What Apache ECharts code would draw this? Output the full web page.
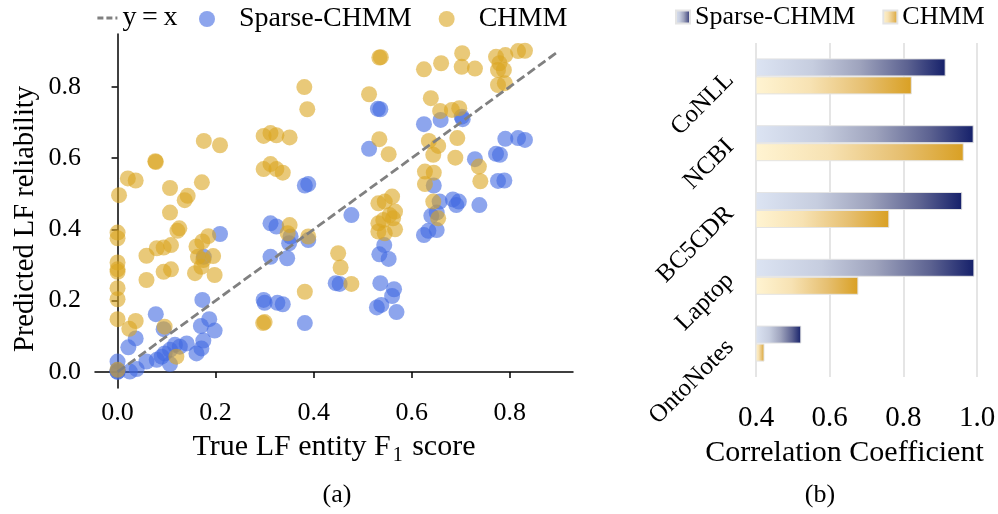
<!DOCTYPE html>
<html>
<head>
<meta charset="utf-8">
<script src="https://cdn.jsdelivr.net/npm/echarts@6/dist/echarts.min.js"></script>
<style>
html,body{margin:0;padding:0;background:#fff;}
#chart{width:998px;height:514px;}
</style>
</head>
<body>
<div id="chart"></div>
<script>
// ---------- (a) scatter data ----------
const sparseF1 = [0.382,0.389,0.531,0.536,0.625,0.659,0.702,0.704,0.513,0.791,0.817,0.831,0.729,0.772,0.780,0.776,0.789,0.645,0.477,0.657,0.684,0.696,0.691,0.738,0.544,0.534,0.553,0.640,0.651,0.625,0.634,0.651,0.453,0.445,0.536,0.564,0.560,0.529,0.538,0.569,0.209,0.176,0.312,0.324,0.353,0.350,0.389,0.312,0.346,0.298,0.300,0.326,0.337,0.382,0.173,0.078,0.094,0.187,0.170,0.198,0.037,0.022,0.175,0.171,0.161,0.141,0.127,0.117,0.107,0.096,0.090,0.059,0.080,0.107,0.039,0.025,0.000,0.000,0.000,0.000];
const sparseRel = [0.523,0.527,0.738,0.737,0.695,0.707,0.716,0.709,0.626,0.654,0.656,0.651,0.597,0.612,0.609,0.536,0.537,0.523,0.440,0.478,0.484,0.478,0.468,0.468,0.356,0.330,0.317,0.438,0.447,0.384,0.396,0.398,0.247,0.249,0.249,0.232,0.213,0.181,0.188,0.168,0.387,0.323,0.417,0.408,0.380,0.361,0.370,0.323,0.319,0.202,0.194,0.194,0.190,0.137,0.202,0.162,0.120,0.148,0.129,0.116,0.094,0.069,0.088,0.066,0.052,0.080,0.071,0.076,0.062,0.052,0.043,0.029,0.034,0.022,0.008,0.001,0.029,0.001,0.000,0.005];
const chmmF1 = [0.381,0.387,0.176,0.209,0.298,0.312,0.324,0.351,0.078,0.077,0.021,0.037,0.003,0.107,0.172,0.143,0.137,0.298,0.312,0.324,0.337,
  0.534,0.537,0.625,0.660,0.703,0.702,0.729,0.772,0.791,0.779,0.776,0.788,0.817,0.831,0.776,0.790,0.513,0.639,0.658,0.682,0.697,0.534,0.553,0.635,0.654,0.644,0.693,0.689,0.627,0.645,0.627,0.737,0.740,0.644,
  0.532,0.545,0.560,0.532,0.542,0.555,0.566,0.562,0.532,0.545,0.566,0.450,0.455,0.477,0.654,
  0.107,0.000,0.000,0.126,0.122,0.059,0.080,0.094,0.109,0.161,0.173,0.185,0.164,0.175,0.195,0.000,0.000,0.000,0.094,0.109,0.158,0.171,0.198,0.059,0.000,0.000,0.000,0.037,0.024,0.096,0.351,0.347,0.389,0.297,0.300,0.382,0.120,0.000];
const chmmRel = [0.799,0.737,0.648,0.636,0.662,0.670,0.664,0.658,0.589,0.591,0.543,0.537,0.496,0.516,0.532,0.494,0.482,0.569,0.583,0.569,0.559,
  0.882,0.883,0.849,0.866,0.894,0.856,0.851,0.884,0.889,0.866,0.847,0.847,0.900,0.901,0.805,0.810,0.779,0.768,0.732,0.735,0.740,0.653,0.611,0.648,0.634,0.609,0.656,0.601,0.562,0.559,0.527,0.576,0.535,0.478,
  0.473,0.478,0.492,0.417,0.426,0.440,0.450,0.431,0.394,0.389,0.400,0.333,0.293,0.247,0.431,
  0.447,0.391,0.375,0.403,0.396,0.326,0.347,0.349,0.356,0.352,0.366,0.381,0.323,0.314,0.325,0.307,0.288,0.281,0.281,0.288,0.277,0.295,0.272,0.258,0.235,0.204,0.148,0.143,0.121,0.127,0.412,0.389,0.380,0.137,0.140,0.225,0.043,0.006];
const diagX = [0, 0.9];
const diagY = [0, 0.9];
const scatterTicks = [0, 0.2, 0.4, 0.6, 0.8];

// ---------- (b) bar data ----------
const datasets = ['CoNLL', 'NCBI', 'BC5CDR', 'Laptop', 'OntoNotes'];
const sparseCorr = [0.915, 0.991, 0.960, 0.993, 0.523];
const chmmCorr = [0.823, 0.964, 0.762, 0.678, 0.423];

const FONT = 'Liberation Serif';
const zip = (a, b) => a.map((v, i) => [v, b[i]]);

const sparseGrad = new echarts.graphic.LinearGradient(0, 0, 1, 0, [
  {offset: 0, color: '#dce4f3'},
  {offset: 0.3, color: '#c6cddf'},
  {offset: 0.55, color: '#9ea3bd'},
  {offset: 0.8, color: '#5c6291'},
  {offset: 1, color: '#15206a'}
]);
const chmmGrad = new echarts.graphic.LinearGradient(0, 0, 1, 0, [
  {offset: 0, color: '#fff4d2'},
  {offset: 0.35, color: '#f7e2b3'},
  {offset: 0.7, color: '#e6bf70'},
  {offset: 1, color: '#d9a023'}
]);

const chart = echarts.init(document.getElementById('chart'), null, {renderer: 'canvas'});
const option = {
  animation: false,
  backgroundColor: '#fff',
  textStyle: {fontFamily: FONT, color: '#000'},
  grid: [
    {left: 95, top: 34, width: 478, height: 354, outerBoundsMode: 'none', containLabel: false},
    {left: 756, top: 43, width: 221, height: 334, outerBoundsMode: 'none', containLabel: false}
  ],
  legend: [
    {
      data: ['y = x'], left: 96, top: 4, padding: 0, itemWidth: 20, itemHeight: 14,
      itemStyle: {opacity: 0},
      lineStyle: {color: '#808080', width: 2.8, type: [6, 3]},
      formatter: n => n.replace(/ /g, '\u2009'),
      textStyle: {fontSize: 28, fontFamily: FONT, color: '#000'}
    },
    {
      data: ['Sparse-CHMM', 'CHMM'], left: 199, top: 5, padding: 0, itemWidth: 16, itemHeight: 16, itemGap: 27,
      icon: 'circle',
      formatter: n => '{g| }' + n,
      textStyle: {fontSize: 28, fontFamily: FONT, color: '#000', rich: {g: {width: 19, fontSize: 28}}}
    },
    {
      data: ['Sparse-CHMM ', 'CHMM '], left: 675, top: 4, padding: 0, itemWidth: 14, itemHeight: 13, itemGap: 27,
      icon: 'rect', formatter: n => n.trim(),
      textStyle: {fontSize: 26, fontFamily: FONT, color: '#000'}
    }
  ],
  graphic: [
    {type: 'text', x: 337, y: 495, style: {text: '(a)', fontSize: 26, fontFamily: FONT, fill: '#000', align: 'center', verticalAlign: 'middle'}},
    {type: 'text', x: 820, y: 495, style: {text: '(b)', fontSize: 26, fontFamily: FONT, fill: '#000', align: 'center', verticalAlign: 'middle'}}
  ],
  xAxis: [
    {
      gridIndex: 0, type: 'value', min: -0.046, max: 0.929,
      axisLine: {show: true, lineStyle: {color: '#000', width: 1.5}},
      axisTick: {show: true, length: 6, customValues: scatterTicks, lineStyle: {color: '#000', width: 1.5}},
      axisLabel: {customValues: scatterTicks, formatter: v => v.toFixed(1), fontSize: 26, fontFamily: FONT, color: '#000', margin: 12},
      splitLine: {show: false},
      name: '{a|True LF entity F}{s|1}{a| score}', nameLocation: 'middle', nameGap: 40,
      nameTextStyle: {
        fontSize: 30, fontFamily: FONT, color: '#000',
        rich: {
          a: {fontSize: 30, fontFamily: FONT, color: '#000'},
          s: {fontSize: 20, fontFamily: FONT, color: '#000', padding: [18, 2, 0, 2]}
        }
      }
    },
    {
      gridIndex: 1, type: 'value', min: 0.4, max: 1.0, interval: 0.2,
      axisLine: {show: false}, axisTick: {show: false},
      splitLine: {show: true, lineStyle: {color: '#dcdcdc', width: 1.5}},
      axisLabel: {formatter: v => v.toFixed(1), fontSize: 29, fontFamily: FONT, color: '#000', margin: 27},
      name: 'Correlation Coefficient', nameLocation: 'middle', nameGap: 61,
      nameTextStyle: {fontSize: 30, fontFamily: FONT, color: '#000', padding: [0, 44, 0, 0]}
    }
  ],
  yAxis: [
    {
      gridIndex: 0, type: 'value', min: -0.045, max: 0.948,
      axisLine: {show: true, lineStyle: {color: '#000', width: 1.5}},
      axisTick: {show: true, length: 6, customValues: scatterTicks, lineStyle: {color: '#000', width: 1.5}},
      axisLabel: {customValues: scatterTicks, formatter: v => v.toFixed(1), fontSize: 26, fontFamily: FONT, color: '#000', margin: 14},
      splitLine: {show: false},
      name: 'Predicted LF reliability', nameLocation: 'middle', nameGap: 55,
      nameTextStyle: {fontSize: 28.5, fontFamily: FONT, color: '#000', padding: [0, 16, 0, 0]}
    },
    {
      gridIndex: 1, type: 'category', data: datasets, inverse: true,
      axisLine: {show: false}, axisTick: {show: false}, splitLine: {show: false},
      axisLabel: {rotate: 45, fontSize: 25, fontFamily: FONT, color: '#000', margin: 26}
    }
  ],
  series: [
    {
      name: 'Sparse-CHMM', type: 'scatter', xAxisIndex: 0, yAxisIndex: 0,
      data: zip(sparseF1, sparseRel), symbol: 'circle', symbolSize: 16,
      itemStyle: {color: '#4169e1', opacity: 0.6}, z: 2
    },
    {
      name: 'CHMM', type: 'scatter', xAxisIndex: 0, yAxisIndex: 0,
      data: zip(chmmF1, chmmRel), symbol: 'circle', symbolSize: 16,
      itemStyle: {color: '#daa520', opacity: 0.6}, z: 2
    },
    {
      name: 'y = x', type: 'line', xAxisIndex: 0, yAxisIndex: 0,
      data: zip(diagX, diagY), symbol: 'none',
      itemStyle: {color: '#808080'},
      lineStyle: {color: '#808080', width: 2.8, type: [9, 4]}, z: 5
    },
    {
      name: 'Sparse-CHMM ', type: 'bar', xAxisIndex: 1, yAxisIndex: 1,
      data: sparseCorr, barWidth: 18, barGap: '0%',
      itemStyle: {color: sparseGrad, borderColor: '#e4e4e4', borderWidth: 1}
    },
    {
      name: 'CHMM ', type: 'bar', xAxisIndex: 1, yAxisIndex: 1,
      data: chmmCorr, barWidth: 18, barGap: '0%',
      itemStyle: {color: chmmGrad, borderColor: '#e4e4e4', borderWidth: 1}
    }
  ]
};
chart.setOption(option);
</script>
</body>
</html>
